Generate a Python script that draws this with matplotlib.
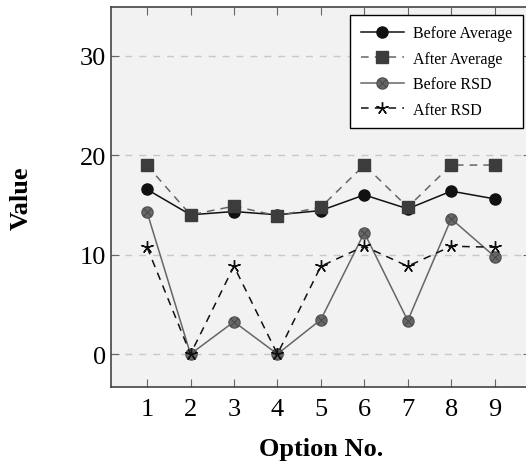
import matplotlib.pyplot as plt
from matplotlib.legend_handler import HandlerTuple

plt.rcParams['font.family'] = ['Liberation Serif', 'DejaVu Serif']

options = [1, 2, 3, 4, 5, 6, 7, 8, 9]
before_avg = [16.55, 14.0, 14.33, 14.0, 14.43, 16.0, 14.6, 16.38, 15.6]
after_avg = [18.96, 14.0, 14.87, 13.9, 14.77, 19.0, 14.77, 19.0, 19.0]
before_rsd = [14.27, 0, 3.25, 0, 3.46, 12.2, 3.36, 13.6, 9.8]
after_rsd = [10.74, 0, 8.83, 0, 8.83, 10.84, 8.83, 10.84, 10.74]
y_ticks = [0, 10, 20, 30]

fig = plt.figure(figsize=(5.26, 4.64), dpi=100)
# right edge of the axes runs slightly past the image, as in the original crop
ax = fig.add_axes([0.211, 0.164, 0.798, 0.819])
ax.set_facecolor('#f2f2f2')

l1, = ax.plot(options, before_avg, '-', color='#111111', lw=1.1,
              marker='o', ms=8, mfc='#111111', mec='#111111')
l2, = ax.plot(options, after_avg, '--', color='#666666', lw=1.1, dashes=(5, 4),
              marker='s', ms=8, mfc='#3c3c3c', mec='#3c3c3c')
l3, = ax.plot(options, before_rsd, '-', color='#666666', lw=1.1,
              marker='o', ms=8, mfc='#686868', mec='#555555')
l3x, = ax.plot(options, before_rsd, ls='none', marker='x', ms=6,
               mec='#4a4a4a', mew=0.8)
l4, = ax.plot(options, after_rsd, '--', color='#111111', lw=1.1, dashes=(5, 4),
              marker=(5, 2, 0), ms=9, mec='#111111', mew=1.0)

ax.set_xlim(0.17, 9.83)
ax.set_ylim(-3.3, 34.9)
ax.set_xticks(options)
ax.set_yticks(y_ticks)
ax.yaxis.grid(True, ls=(0, (5, 5)), color='#c8c8c8', lw=1)
ax.tick_params(direction='in', top=True, right=True, labelsize=19,
               length=6, color='#666666')
ax.tick_params(axis='x', pad=8)
for s in ax.spines.values():
    s.set_color('#444444')
    s.set_linewidth(1.2)

ax.set_xlabel('Option No.', fontsize=19, fontweight='bold', labelpad=12)
ax.set_ylabel('Value', fontsize=19, fontweight='bold', labelpad=34)

leg = ax.legend([l1, l2, (l3, l3x), l4],
                ['Before Average', 'After Average', 'Before RSD', 'After RSD'],
                handler_map={tuple: HandlerTuple(ndivide=1, pad=0)},
                loc='upper right', fontsize=11.5, fancybox=False,
                framealpha=1, edgecolor='black', handlelength=2.7,
                handletextpad=0.6, borderaxespad=0.5, borderpad=0.65,
                labelspacing=0.6)
leg.get_frame().set_linewidth(1.0)

fig.savefig('out.png', dpi=100)
